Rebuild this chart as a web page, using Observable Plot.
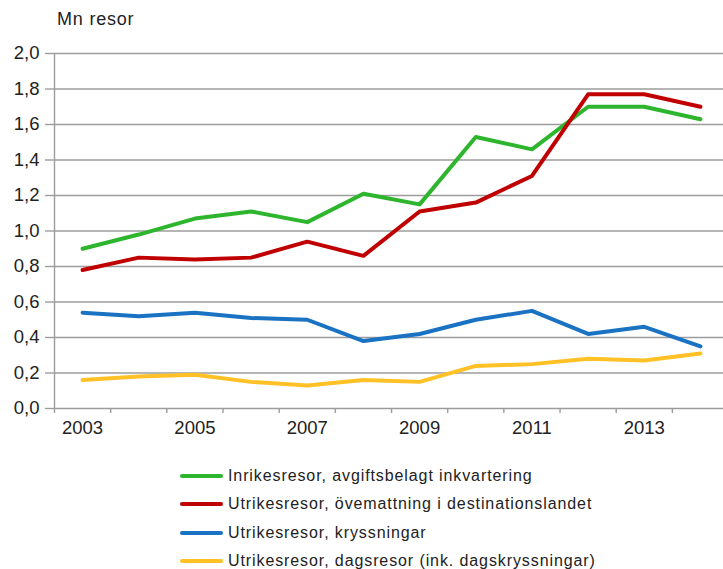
<!DOCTYPE html>
<html>
<head>
<meta charset="utf-8">
<script src="https://cdn.jsdelivr.net/npm/d3@7"></script>
<script src="https://cdn.jsdelivr.net/npm/@observablehq/plot@0.6"></script>
<style>
  body { margin: 0; background: #fff; font-family: "Liberation Sans", Arial, sans-serif; }
  #wrap { position: relative; width: 723px; height: 569px; overflow: hidden; }
  #title { position: absolute; left: 57px; top: 9px; font-size: 18px; letter-spacing: 0.8px; color: #222; }
  #chart { position: absolute; left: 0; top: 40px; }
  #legend { position: absolute; left: 180px; top: 462px; font-size: 16px; color: #222; letter-spacing: 0.9px; }
  .row { height: 28.3px; display: flex; align-items: center; }
  .sw { width: 43px; height: 4px; border-radius: 2px; margin-right: 5px; }
</style>
</head>
<body>
<div id="wrap">
  <div id="title">Mn resor</div>
  <div id="chart"></div>
  <div id="legend"></div>
</div>
<script>
const years = [2003, 2004, 2005, 2006, 2007, 2008, 2009, 2010, 2011, 2012, 2013, 2014];
const seriesNames = [
  "Inrikesresor, avgiftsbelagt inkvartering",
  "Utrikesresor, övernattning i destinationslandet",
  "Utrikesresor, kryssningar",
  "Utrikesresor, dagsresor (ink. dagskryssningar)"
];
const legendLabels = [
  "Inrikesresor, avgiftsbelagt inkvartering",
  "Utrikesresor, övemattning i destinationslandet",
  "Utrikesresor, kryssningar",
  "Utrikesresor, dagsresor (ink. dagskryssningar)"
];
const inrikes   = [0.90, 0.98, 1.07, 1.11, 1.05, 1.21, 1.15, 1.53, 1.46, 1.70, 1.70, 1.63];
const overnatt  = [0.78, 0.85, 0.84, 0.85, 0.94, 0.86, 1.11, 1.16, 1.31, 1.77, 1.77, 1.70];
const kryss     = [0.54, 0.52, 0.54, 0.51, 0.50, 0.38, 0.42, 0.50, 0.55, 0.42, 0.46, 0.35];
const dags      = [0.16, 0.18, 0.19, 0.15, 0.13, 0.16, 0.15, 0.24, 0.25, 0.28, 0.27, 0.31];
const colors = ["#2eb52e", "#c00000", "#1a72c2", "#ffc125"];
const yTicks = [0, 0.2, 0.4, 0.6, 0.8, 1.0, 1.2, 1.4, 1.6, 1.8, 2.0];
const xLabelYears = [2003, 2005, 2007, 2009, 2011, 2013];

const allSeries = [inrikes, overnatt, kryss, dags];
const data = [];
allSeries.forEach((vals, si) => {
  vals.forEach((v, i) => data.push({year: years[i], value: v, series: seriesNames[si]}));
});
const bounds = d3.range(years[0] - 0.5, years[years.length - 1] + 1, 1);

const gridColor = "#9c9c9c";
const chart = Plot.plot({
  width: 723,
  height: 400,
  marginTop: 13,
  marginLeft: 54,
  marginRight: 0,
  marginBottom: 32,
  style: {fontFamily: "Liberation Sans, Arial, sans-serif", fontSize: "18.5px", color: "#222", background: "transparent"},
  x: {type: "linear", domain: [2002.5, 2014.41]},
  y: {domain: [0, 2.0]},
  color: {domain: seriesNames, range: colors},
  marks: [
    Plot.ruleY(yTicks, {stroke: gridColor, strokeWidth: 1.4}),
    Plot.ruleX([years[0] - 0.5], {stroke: gridColor, strokeWidth: 1.4}),
    Plot.axisY({ticks: yTicks, tickSize: 9, tickPadding: 6, stroke: gridColor, fill: "#222",
      tickFormat: d => d.toFixed(1).replace(".", ","), label: null, strokeWidth: 1.4}),
    Plot.axisX({ticks: bounds, tickSize: 5, tickFormat: () => "", stroke: gridColor, label: null, strokeWidth: 1.4}),
    Plot.axisX({ticks: xLabelYears, tickSize: 0, tickPadding: 12, fill: "#222", tickFormat: d => String(d), label: null}),
    Plot.line(data, {x: "year", y: "value", stroke: "series", z: "series", strokeWidth: 4, strokeLinejoin: "round", strokeLinecap: "round"})
  ]
});
document.getElementById("chart").appendChild(chart);

const legend = document.getElementById("legend");
legendLabels.forEach((name, i) => {
  const row = document.createElement("div");
  row.className = "row";
  const sw = document.createElement("div");
  sw.className = "sw";
  sw.style.background = colors[i];
  const t = document.createElement("span");
  t.textContent = name;
  row.appendChild(sw);
  row.appendChild(t);
  legend.appendChild(row);
});
</script>
</body>
</html>
